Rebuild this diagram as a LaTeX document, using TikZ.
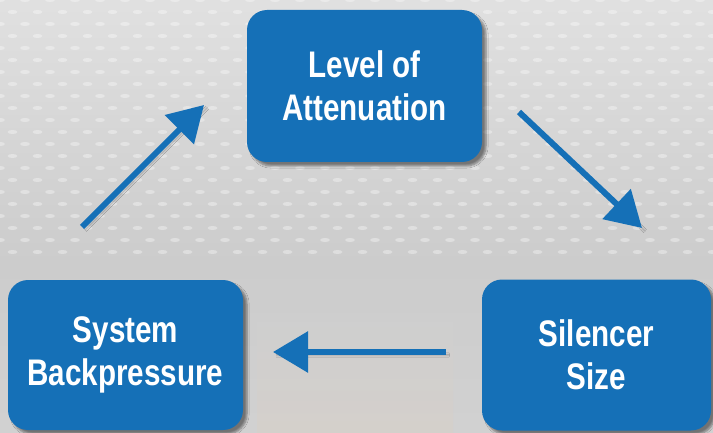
\documentclass[tikz,border=0pt]{standalone}
\usepackage{fontspec}
\setmainfont{Liberation Sans}[FakeStretch=0.8]
\usetikzlibrary{arrows.meta,shadows.blur}
\definecolor{boxblue}{HTML}{1570B7}
\tikzset{
  factor/.style={fill=boxblue, rounded corners=20pt, text=white, align=center,
    inner sep=0pt, font=\bfseries\fontsize{37}{43}\selectfont,
    blur shadow={shadow xshift=4pt, shadow yshift=-4pt, shadow blur steps=6, shadow opacity=45}},
  flow/.style={draw=boxblue, line width=6pt, -{Triangle[length=35pt, width=40pt]},
    blur shadow={shadow xshift=3pt, shadow yshift=-3pt, shadow blur steps=5, shadow opacity=30}}
}
\begin{document}
\begin{tikzpicture}[x=1pt, y=1pt]
    \useasboundingbox (0,0) rectangle (713,432);
    % background
    \begin{scope}
        \clip (0,0) rectangle (713,432);
        \shade[top color=black!12, bottom color=black!20] (0,170) rectangle (713,432);
        \shade[top color=black!20, bottom color=black!18] (0,0) rectangle (713,170);
        \shade[top color=black!18, bottom color=white!80!brown!90!black, opacity=0.4] (257,0) rectangle (453,110);
        \foreach \row in {0,...,21} {
            \foreach \col in {0,...,29} {
                \fill[white, opacity=0.35] ({\col*25 + mod(\row,2)*12.5}, {432 - \row*12}) ellipse (5 and 2);
            }
        }
    \end{scope}

    % factors
    \node[factor, minimum width=235pt, minimum height=152pt] (level) at (364.5,346) {Level of\\Attenuation};
    \node[factor, minimum width=229pt, minimum height=151pt] (size) at (596.5,77) {Silencer\\Size};
    \node[factor, minimum width=235pt, minimum height=150pt] (backp) at (125.5,77) {System\\Backpressure};

    % arrows
    \coordinate (up0) at (82,205);
    \coordinate (up1) at (204,327);
    \coordinate (dn0) at (519,320);
    \coordinate (dn1) at (642,204);
    \coordinate (lf0) at (446,80);
    \coordinate (lf1) at (273,80);
    \draw[flow] (up0) -- (up1);
    \draw[flow] (dn0) -- (dn1);
    \draw[flow] (lf0) -- (lf1);
\end{tikzpicture}
\end{document}
